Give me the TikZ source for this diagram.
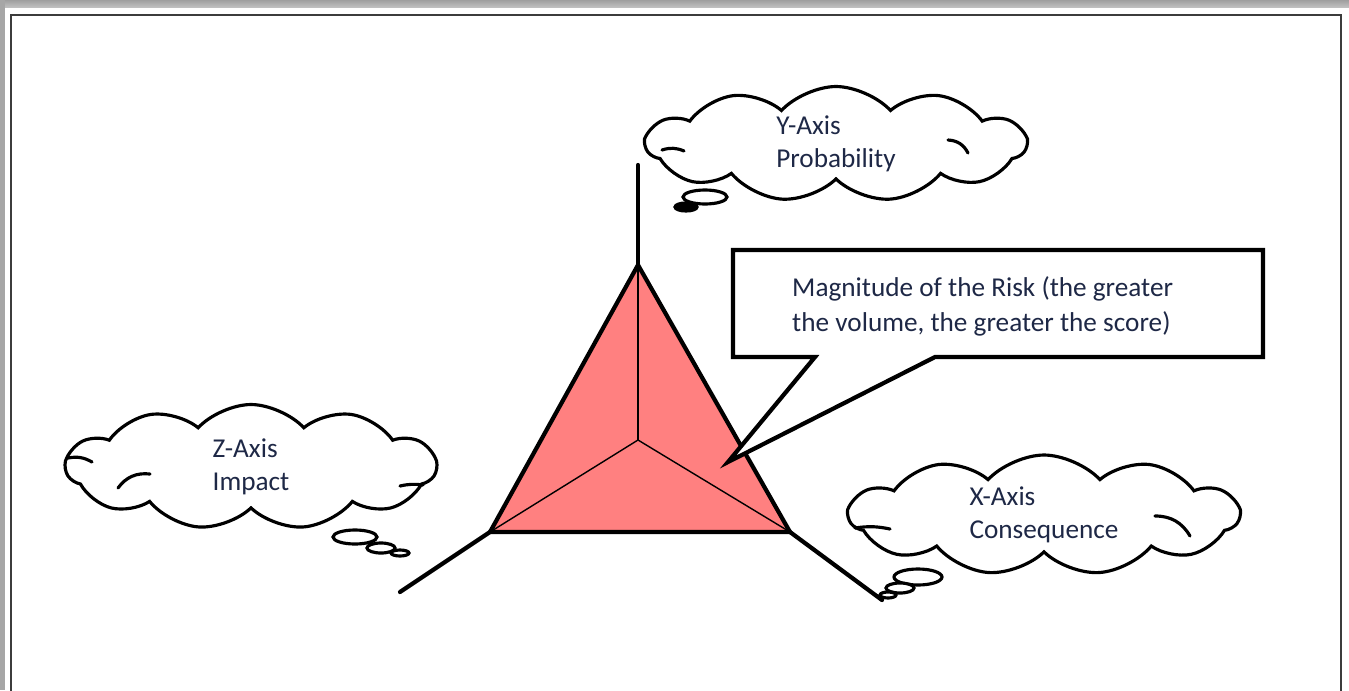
\documentclass[tikz,border=0pt]{standalone}
\usepackage{fontspec}
\setmainfont{Carlito}
\usepackage{xcolor}
\usetikzlibrary{shapes.symbols}

\definecolor{riskred}{RGB}{255,128,128}
\definecolor{inktext}{RGB}{30,40,70}
\definecolor{framegray}{RGB}{60,60,60}

\begin{document}
\begin{tikzpicture}[x=0.02cm, y=-0.02cm,
    axis/.style={line width=2.4pt, line cap=round},
    spoke/.style={line width=0.8pt},
    thought/.style={cloud, cloud puffs=11, cloud puff arc=95, cloud ignores aspect, draw,
        line width=1.8pt, fill=white, text=inktext, align=left, inner sep=0pt,
        font=\fontsize{15.5}{19}\selectfont},
    crease/.style={line width=1.8pt, line cap=round},
    bubble/.style={draw, line width=1.8pt, fill=white}]
    \useasboundingbox (0,0) rectangle (1349,690);
    \clip (0,0) rectangle (1349,690);

    % window frame
    \shade[top color=gray!75, bottom color=gray!50] (0,0) rectangle (1349,7);
    \fill[gray!70] (0,0) rectangle (5,690);
    \draw[framegray, line width=1.4pt] (11,15) rectangle (1341,720);

    \coordinate (apex) at (638,265);
    \coordinate (lft) at (490,532);
    \coordinate (rgt) at (790,532);
    \coordinate (ctr) at (638,440);
    \coordinate (yend) at (638,165);
    \coordinate (zend) at (400,592);
    \coordinate (xend) at (882,600);

    % the risk volume
    \fill[riskred] (apex) -- (rgt) -- (lft) -- cycle;
    \foreach \p in {apex,lft,rgt}
        \draw[spoke] (ctr) -- (\p);
    \draw[axis] (apex) -- (rgt) -- (lft) -- cycle;
    \draw[axis] (yend) -- (apex);
    \draw[axis] (lft) -- (zend);
    \draw[axis] (rgt) -- (xend);

    % callout
    \coordinate (tip) at (728,462);
    \draw[line width=2.4pt, fill=white, line join=miter]
        (733,250) -- (1263,250) -- (1263,357) -- (935,357) -- (tip)
        -- (815,357) -- (733,357) -- cycle;
    \node[anchor=north west, text=inktext, align=left,
        font=\fontsize{15.5}{20}\selectfont] (risk) at (786,270)
        {Magnitude of the Risk (the greater\\the volume, the greater the score)};

    % thought clouds
    \node[thought, minimum width=7.6cm, minimum height=2.3cm] (ycloud) at (836,144)
        {Y-Axis\\Probability};
    \draw[crease] (662,150) to[bend left=20] (684,151);
    \draw[crease] (948,140) to[bend left=30] (968,153);
    \draw[bubble] (705,197) ellipse (22 and 7);
    \draw[bubble, fill=black] (686,207) ellipse (11 and 4);

    \node[thought, minimum width=7.4cm, minimum height=2.5cm] (zcloud) at (251,467)
        {Z-Axis\\Impact};
    \draw[crease] (68,458) to[bend left=20] (92,462);
    \draw[crease] (118,488) to[bend left=30] (150,474);
    \draw[crease] (400,486) to[bend left=10] (423,485);
    \draw[bubble] (355,537) ellipse (22 and 7);
    \draw[bubble] (381,548) ellipse (14 and 5);
    \draw[bubble] (400,553) ellipse (9 and 3);

    \node[thought, minimum width=7.8cm, minimum height=2.4cm] (xcloud) at (1044,515)
        {X-Axis\\Consequence};
    \draw[crease] (855,528) to[bend left=10] (890,529);
    \draw[crease] (1155,516) to[bend left=30] (1190,536);
    \draw[bubble] (918,577) ellipse (24 and 8);
    \draw[bubble] (900,588) ellipse (14 and 5);
    \draw[bubble] (888,595) ellipse (8 and 3);
\end{tikzpicture}
\end{document}
